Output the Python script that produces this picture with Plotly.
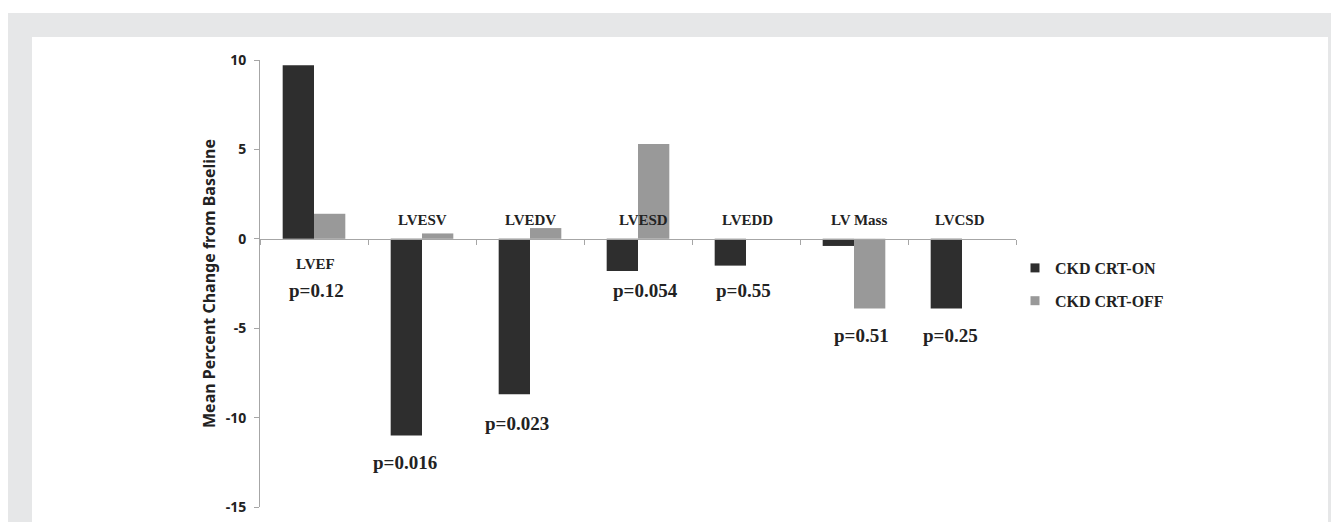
import plotly.graph_objects as go

# ---- data ----
categories = ["LVEF", "LVESV", "LVEDV", "LVESD", "LVEDD", "LV Mass", "LVCSD"]
crt_on = [9.7, -11.0, -8.7, -1.8, -1.5, -0.4, -3.9]
crt_off = [1.4, 0.3, 0.6, 5.3, 0.0, -3.9, 0.0]
p_values = ["p=0.12", "p=0.016", "p=0.023", "p=0.054", "p=0.55", "p=0.51", "p=0.25"]
y_ticks = [10, 5, 0, -5, -10, -15]
y_tick_labels = ["10", "5", "0", "-5", "-10", "-15"]
series_names = ["CKD CRT-ON", "CKD CRT-OFF"]

# ---- style / layout ----
OX, OY = 8, 8                 # page body margin
W, H = 1339 - OX, 522 - OY
L, T = 260 - OX, 60 - OY
PW, PH = 756, 447
R, B = W - L - PW, H - T - PH
DARK = "#2e2e2e"
LIGHT = "#999999"
FRAME = "#e6e7e8"
AXIS = "#a6a6a6"
SERIF = "Liberation Serif"
SANS = "Noto Sans"

def px_x(px):      # page px -> paper
    return (px - OX - L) / PW

def px_y(py):
    return (T + PH - (py - OY)) / PH

# label placement (data units on y axis, px shift on x)
cat_label_y = [-1.4, 1.05, 1.05, 1.05, 1.05, 1.05, 1.05]
cat_label_dx = [1, 0, 0, 5, 1, 5, -2]
p_label_y = [-2.9, -12.5, -10.35, -2.9, -2.9, -5.4, -5.4]
p_label_dx = [2, -17, -13, 7, -3, 7, -12]

fig = go.Figure()
fig.add_trace(go.Bar(x=categories, y=crt_on, name=series_names[0], marker_color=DARK,
                     marker_line_width=0, showlegend=False, legendgroup="on"))
fig.add_trace(go.Bar(x=categories, y=crt_off, name=series_names[1], marker_color=LIGHT,
                     marker_line_width=0, showlegend=False, legendgroup="off"))
# legend entries
fig.add_trace(go.Scatter(x=[None], y=[None], mode="markers", name=series_names[0],
                         marker=dict(symbol="square", size=9, color=DARK), legendgroup="on"))
fig.add_trace(go.Scatter(x=[None], y=[None], mode="markers", name=series_names[1],
                         marker=dict(symbol="square", size=9, color=LIGHT), legendgroup="off"))

annotations = []
for i, c in enumerate(categories):
    annotations.append(dict(x=c, y=cat_label_y[i], xref="x", yref="y", text=c, showarrow=False,
                            xshift=cat_label_dx[i],
                            font=dict(family=SERIF, size=15, color="#222222", weight="bold")))
    annotations.append(dict(x=c, y=p_label_y[i], xref="x", yref="y", text=p_values[i], showarrow=False,
                            xshift=p_label_dx[i],
                            font=dict(family=SERIF, size=19, color="#222222", weight="bold")))

shapes = [
    dict(type="rect", xref="paper", yref="paper", x0=px_x(8), x1=px_x(1345), y0=px_y(13), y1=px_y(530),
         fillcolor=FRAME, line_width=0, layer="below"),
    dict(type="rect", xref="paper", yref="paper", x0=px_x(32), x1=px_x(1328), y0=px_y(37), y1=px_y(530),
         fillcolor="white", line_width=0, layer="below"),
]

fig.update_layout(
    width=W, height=H,
    margin=dict(l=L, r=R, t=T, b=B, autoexpand=False),
    paper_bgcolor="white", plot_bgcolor="rgba(0,0,0,0)",
    barmode="group", bargap=0.42, bargroupgap=0,
    showlegend=True,
    legend=dict(x=px_x(1015), y=px_y(251), xanchor="left", yanchor="top",
                bgcolor="rgba(0,0,0,0)", tracegroupgap=9,
                font=dict(family=SERIF, size=16, color="#222222", weight="bold")),
    annotations=annotations,
    shapes=shapes,
    xaxis=dict(type="category", anchor="free", position=0.6, showticklabels=False,
               tickson="boundaries", ticks="outside", ticklen=5, tickcolor=AXIS,
               showline=True, linecolor=AXIS, linewidth=1, showgrid=False, zeroline=False),
    yaxis=dict(range=[-15, 10], tickvals=y_ticks, ticktext=y_tick_labels,
               ticks="outside", ticklen=5, tickcolor=AXIS,
               showline=True, linecolor=AXIS, linewidth=1, showgrid=False, zeroline=False,
               ticklabelstandoff=5,
               tickfont=dict(family=SANS, size=14, color="#222222", weight="bold"),
               title=dict(text="Mean Percent Change from Baseline", standoff=6,
                          font=dict(family=SANS, size=16, color="#222222", weight="bold"))),
)

fig.write_html("out.html")
